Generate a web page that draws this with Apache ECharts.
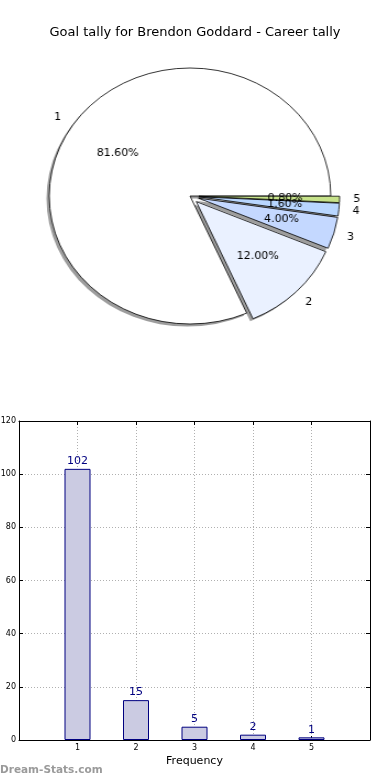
<!DOCTYPE html>
<html><head><meta charset="utf-8">
<script src="https://cdn.jsdelivr.net/npm/echarts@6/dist/echarts.min.js"></script>
<style>
html,body{margin:0;padding:0;background:#fff;}
#main{position:absolute;left:0;top:0;width:390px;height:780px;}
#pie{position:absolute;left:0;top:0;width:390px;height:400px;transform-origin:190px 0;transform:scaleX(1.1);}
</style></head>
<body>
<div id="main"></div>
<div id="pie"></div>
<script>
const titleText = 'Goal tally for Brendon Goddard - Career tally';
const categories = ['1', '2', '3', '4', '5'];
const counts = [102, 15, 5, 2, 1];
const sliceColors = ['#ffffff', '#eaf1ff', '#c4d8ff', '#b8d6ff', '#c6e28a'];
const explodedFlags = [false, true, true, true, true];
const yTicks = [0, 20, 40, 60, 80, 100, 120];
const FONT = 'DejaVu Sans';

// ---------- bar chart + title ----------
const main = echarts.init(document.getElementById('main'), null, {renderer: 'canvas'});
const barData = categories.map((c, i) => [Number(c), counts[i]]);
const gridLine = {show: true, lineStyle: {color: '#b0b0b0', type: [1, 2], width: 1}};
const frameLine = {show: true, onZero: false, lineStyle: {color: '#000', width: 1}};
main.setOption({
  animation: false,
  title: {text: titleText, left: 'center', top: 21,
    textStyle: {fontFamily: FONT, fontSize: 13, fontWeight: 'normal', color: '#000'}},
  grid: {left: 19, right: 20, top: 421, bottom: 40, outerBoundsMode: 'none', containLabel: false},
  xAxis: [{
    type: 'value', min: 0, max: 6, interval: 1, position: 'bottom',
    name: 'Frequency', nameLocation: 'middle', nameGap: 16,
    nameTextStyle: {fontFamily: FONT, fontSize: 11, color: '#000'},
    axisLine: frameLine,
    axisTick: {show: true, inside: true, length: 4, lineStyle: {color: '#000'}},
    axisLabel: {fontFamily: FONT, fontSize: 8, color: '#000', margin: 4,
      formatter: v => (v >= 1 && v <= 5) ? String(v) : ''},
    splitLine: gridLine
  }, {
    type: 'value', min: 0, max: 6, interval: 1, position: 'top',
    axisLine: frameLine,
    axisTick: {show: true, inside: true, length: 4, lineStyle: {color: '#000'}},
    axisLabel: {show: false}, splitLine: {show: false}
  }],
  yAxis: [{
    type: 'value', min: yTicks[0], max: yTicks[yTicks.length - 1], interval: 20, position: 'left',
    axisLine: frameLine,
    axisTick: {show: true, inside: true, length: 4, lineStyle: {color: '#000'}},
    axisLabel: {fontFamily: FONT, fontSize: 8, color: '#000', margin: 3},
    splitLine: gridLine
  }, {
    type: 'value', min: yTicks[0], max: yTicks[yTicks.length - 1], interval: 20, position: 'right',
    axisLine: frameLine,
    axisTick: {show: true, inside: true, length: 4, lineStyle: {color: '#000'}},
    axisLabel: {show: false}, splitLine: {show: false}
  }],
  series: [{
    type: 'bar', xAxisIndex: 0, yAxisIndex: 0, data: barData, barWidth: 26,
    itemStyle: {color: '#cbcbe2', borderColor: '#000080', borderWidth: 1},
    label: {show: true, position: 'top', distance: 2, fontFamily: FONT, fontSize: 11, color: '#000080'},
    emphasis: {disabled: true}
  }],
  graphic: [{
    type: 'text', left: 0, top: 765,
    style: {text: 'Dream-Stats.com', fontFamily: FONT, fontSize: 10.5, fontWeight: 'bold', fill: '#9a9a9a'}
  }]
});

// ---------- pie (drawn elliptical via horizontal scale of its container) ----------
const pie = echarts.init(document.getElementById('pie'), null, {renderer: 'canvas'});
const R = 128;
const CX = 190, CY = 196;
const total = counts.reduce((a, b) => a + b, 0);
function pieData(styleFn) {
  return categories.map((c, i) => Object.assign({name: c, value: counts[i], selected: explodedFlags[i]}, styleFn(i)));
}
const common = {
  type: 'pie', startAngle: 0, clockwise: false, selectedMode: 'multiple', selectedOffset: 8,
  avoidLabelOverlap: false, emphasis: {disabled: true}, labelLine: {show: false},
  minAngle: 0, minShowLabelAngle: 0, labelLayout: {hideOverlap: false}, animation: false
};
pie.setOption({
  animation: false,
  series: [
    Object.assign({}, common, {
      name: 'shadow', center: [CX - 2.5, CY + 2.6], radius: [0, R], silent: true,
      itemStyle: {color: 'rgba(60,60,60,0.5)', borderWidth: 0},
      select: {itemStyle: {color: 'rgba(60,60,60,0.5)', borderWidth: 0}},
      label: {show: false},
      data: pieData(() => ({}))
    }),
    Object.assign({}, common, {
      name: 'slices', center: [CX, CY], radius: [0, R],
      itemStyle: {borderColor: '#000', borderWidth: 0.8},
      label: {show: false},
      data: pieData(i => ({itemStyle: {color: sliceColors[i]}, select: {itemStyle: {color: sliceColors[i], borderColor: '#000', borderWidth: 0.8}}}))
    }),
    Object.assign({}, common, {
      name: 'pct', center: [CX, CY], radius: [0, R * 1.18], silent: true,
      itemStyle: {color: 'rgba(0,0,0,0)', borderWidth: 0},
      select: {itemStyle: {color: 'rgba(0,0,0,0)', borderWidth: 0}},
      label: {show: true, position: 'inside', fontFamily: FONT, fontSize: 10, color: '#000',
        formatter: p => (p.value / total * 100).toFixed(2) + '%'},
      data: pieData(() => ({}))
    }),
    Object.assign({}, common, {
      name: 'names', center: [CX, CY], radius: [0, R * 2.2], silent: true,
      itemStyle: {color: 'rgba(0,0,0,0)', borderWidth: 0},
      select: {itemStyle: {color: 'rgba(0,0,0,0)', borderWidth: 0}},
      label: {show: true, position: 'inside', fontFamily: FONT, fontSize: 10, color: '#000',
        formatter: p => p.name},
      data: pieData(() => ({}))
    })
  ]
});
</script>
</body></html>
